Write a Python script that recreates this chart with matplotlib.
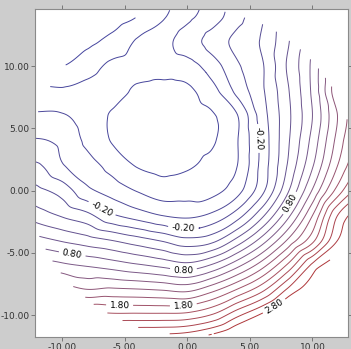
import numpy as np
import matplotlib
matplotlib.use('Agg')
import matplotlib.pyplot as plt
import matplotlib.tri as mtri
from matplotlib.colors import LinearSegmentedColormap, Normalize

# grid nodes (every 2 units) and the values
x_nodes = np.arange(-14, 15, 2)
y_nodes = np.arange(-12, 17, 2)

z_rows = [
    [3.2, 3.0, 2.85, 2.8, 2.78, 2.77, 2.78, 2.83, 2.98, 3.2, 3.45, 3.75, 4.1, 4.5, 4.9],           # y=-12
    [2.6, 2.3, 2.2, 2.1, 2.05, 2.05, 2.05, 2.07, 2.22, 2.55, 2.85, 3.2, 3.6, 4.0, 4.5],             # y=-10
    [1.9, 1.7, 1.55, 1.42, 1.45, 1.43, 1.40, 1.36, 1.55, 1.83, 2.16, 2.64, 3.0, 3.5, 4.0],          # y=-8
    [1.3, 1.15, 1.05, 0.98, 0.91, 0.83, 0.75, 0.67, 0.83, 1.14, 1.52, 2.03, 2.65, 3.0, 3.4],        # y=-6
    [0.8, 0.68, 0.58, 0.49, 0.40, 0.29, 0.18, 0.06, 0.14, 0.47, 0.90, 1.42, 1.94, 2.6, 3.0],        # y=-4
    [0.5, 0.30, 0.18, 0.06, -0.17, -0.29, -0.40, -0.44, -0.35, -0.09, 0.36, 0.93, 1.6, 2.4, 2.8],   # y=-2
    [0.15, 0.05, -0.08, -0.35, -0.48, -0.61, -0.70, -0.68, -0.66, -0.47, -0.05, 0.56, 1.22, 1.88, 2.4],  # y=0
    [-0.2, -0.17, -0.38, -0.51, -0.67, -0.81, -0.85, -0.82, -0.74, -0.60, -0.12, 0.41, 0.98, 1.6, 2.1],  # y=2
    [-0.42, -0.38, -0.45, -0.64, -0.81, -0.86, -0.88, -0.86, -0.82, -0.61, -0.13, 0.36, 0.87, 1.47, 2.0],  # y=4
    [-0.6, -0.57, -0.58, -0.68, -0.82, -0.87, -0.89, -0.87, -0.82, -0.61, -0.09, 0.34, 0.80, 1.4, 1.9],    # y=6
    [-0.8, -0.75, -0.77, -0.74, -0.73, -0.83, -0.86, -0.84, -0.67, -0.34, -0.03, 0.37, 0.84, 1.55, 1.95],  # y=8
    [-1.0, -0.95, -1.0, -0.88, -0.76, -0.74, -0.72, -0.68, -0.50, -0.23, -0.02, 0.42, 0.85, 1.5, 1.9],     # y=10
    [-1.1, -1.1, -1.1, -1.05, -0.94, -0.78, -0.67, -0.50, -0.32, -0.14, 0.03, 0.37, 0.8, 1.4, 1.8],        # y=12
    [-1.2, -1.2, -1.2, -1.15, -1.1, -1.0, -0.83, -0.65, -0.5, -0.27, -0.02, 0.35, 0.8, 1.3, 1.7],          # y=14
    [-1.25, -1.25, -1.25, -1.2, -1.15, -1.1, -0.9, -0.7, -0.55, -0.3, -0.05, 0.3, 0.75, 1.25, 1.6],        # y=16
]

levels = np.round(np.arange(-1.0, 3.01, 0.2), 2)
label_levels = [-0.2, 0.8, 1.8, 2.8]
label_spots = [(-6.9, -1.6), (-0.3, -2.8), (5.8, 4.2),
               (-9.2, -5.2), (-0.3, -6.4), (8.2, -1.0),
               (-5.4, -8.9), (-0.3, -9.3),
               (6.9, -9.2)]
ticks = [-10, -5, 0, 5, 10]

# circular area where there is data
cx, cy, rad = 0.3, 1.5, 13.2

X, Y = np.meshgrid(x_nodes, y_nodes)
Z = np.array(z_rows)
tri = mtri.Triangulation(X.ravel().astype(float), Y.ravel().astype(float))
interp = mtri.CubicTriInterpolator(tri, Z.ravel(), kind='geom')

xi = np.linspace(-14, 14, 281)
yi = np.linspace(-12, 16, 281)
XI, YI = np.meshgrid(xi, yi)
ZI = interp(XI, YI)
ZI = np.ma.masked_where((XI - cx)**2 + (YI - cy)**2 > rad**2, ZI)

cmap = LinearSegmentedColormap.from_list('bluered', ['#44449e', '#554c94', '#7c5a88', '#a85060', '#b03030'])
norm = Normalize(levels[0], levels[-1])
plain_levels = [l for l in levels if not np.isclose(l, label_levels).any()]

fig = plt.figure(figsize=(3.51, 3.49), dpi=100)
fig.patch.set_facecolor('#cdcdcd')
ax = fig.add_axes([0.0997, 0.0344, 0.8918, 0.9398])
ax.set_facecolor('white')

ax.contour(XI, YI, ZI, levels=plain_levels, cmap=cmap, norm=norm, linewidths=0.7)
cs = ax.contour(XI, YI, ZI, levels=label_levels, cmap=cmap, norm=norm, linewidths=0.7)
ax.clabel(cs, manual=label_spots, fmt='%.2f',
          fontsize=6.5, colors='black', inline=True, inline_spacing=2)

ax.set_xlim(-12.15, 12.84)
ax.set_ylim(-11.76, 14.6)
ax.set_xticks(ticks)
ax.set_yticks(ticks)
ax.set_xticklabels([f'{t:.2f}' for t in ticks])
ax.set_yticklabels([f'{t:.2f}' for t in ticks])
ax.tick_params(direction='out', length=3, width=0.7, colors='#777777',
               labelcolor='#333333', labelsize=6.5, pad=1.0,
               top=True, right=True)
for s in ax.spines.values():
    s.set_color('#8a8a8a')
    s.set_linewidth(0.8)

fig.savefig('out.png', dpi=100, facecolor=fig.get_facecolor())
